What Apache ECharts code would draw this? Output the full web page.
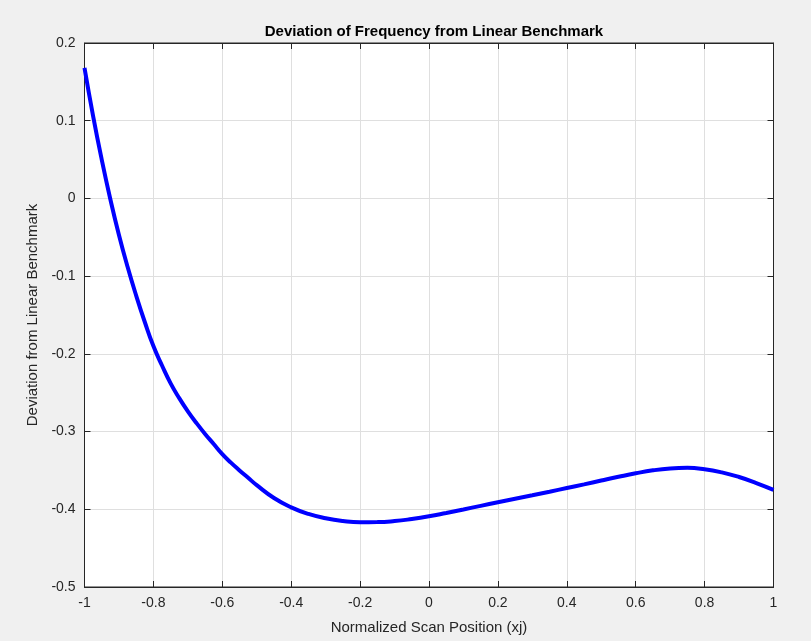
<!DOCTYPE html>
<html>
<head>
<meta charset="utf-8">
<script src="https://cdn.jsdelivr.net/npm/echarts@6/dist/echarts.min.js"></script>
<style>
html,body{margin:0;padding:0;background:#f0f0f0;}
#chart{width:811px;height:641px;}
</style>
</head>
<body>
<div id="chart"></div>
<script>
// Data
const xPositions = [-1.00,-0.975,-0.95,-0.925,-0.90,-0.875,-0.85,-0.825,-0.80,-0.775,-0.75,-0.725,-0.70,-0.675,-0.65,-0.625,-0.60,-0.575,-0.55,-0.525,-0.50,-0.45,-0.40,-0.35,-0.30,-0.25,-0.20,-0.15,-0.10,-0.05,0.00,0.05,0.10,0.15,0.20,0.25,0.30,0.35,0.40,0.45,0.50,0.55,0.60,0.65,0.70,0.75,0.80,0.85,0.90,0.95,1.00];
const deviations = [0.168,0.106,0.050,-0.001,-0.047,-0.088,-0.125,-0.159,-0.190,-0.215,-0.238,-0.257,-0.274,-0.289,-0.303,-0.316,-0.329,-0.340,-0.350,-0.3595,-0.369,-0.3855,-0.3975,-0.406,-0.4115,-0.415,-0.4166,-0.4165,-0.4152,-0.4125,-0.409,-0.4047,-0.4002,-0.3956,-0.391,-0.3865,-0.382,-0.3774,-0.3727,-0.3679,-0.363,-0.3582,-0.3537,-0.3499,-0.3475,-0.3467,-0.3485,-0.3525,-0.3585,-0.3662,-0.375];
const titleText = 'Deviation of Frequency from Linear Benchmark';
const xLabel = 'Normalized Scan Position (xj)';
const yLabel = 'Deviation from Linear Benchmark';

const FONT = "'Liberation Sans', Arial, Helvetica, sans-serif";
const AX = '#262626';
const fmt = v => String(+v.toFixed(1));

const chart = echarts.init(document.getElementById('chart'));
const baseAxis = {
  axisLine: {show: true, onZero: false, lineStyle: {color: AX, width: 1}},
  axisTick: {show: true, inside: true, length: 6, lineStyle: {color: AX}},
  splitLine: {show: false},
  axisLabel: {show: false}
};
chart.setOption({
  backgroundColor: '#f0f0f0',
  animation: false,
  title: {
    text: titleText, left: 429, top: 19, textAlign: 'center',
    textStyle: {fontFamily: FONT, fontSize: 15, fontWeight: 'bold', color: '#000'}
  },
  grid: {left: 84.5, right: 37.5, top: 43, bottom: 54, show: true, backgroundColor: '#fff', borderColor: AX, borderWidth: 1},
  xAxis: [{
    type: 'value', min: -1, max: 1, interval: 0.2, position: 'bottom',
    name: xLabel, nameLocation: 'middle', nameGap: 33,
    nameTextStyle: {fontFamily: FONT, fontSize: 15, color: AX},
    axisLine: {show: true, onZero: false, lineStyle: {color: AX, width: 1}},
    axisTick: {show: true, inside: true, length: 6, lineStyle: {color: AX}},
    axisLabel: {fontFamily: FONT, fontSize: 14, color: AX, margin: 9, formatter: fmt},
    splitLine: {show: true, lineStyle: {color: '#dfdfdf', width: 1}}
  }, Object.assign({type: 'value', min: -1, max: 1, interval: 0.2, position: 'top'}, baseAxis)],
  yAxis: [{
    type: 'value', min: -0.5, max: 0.2, interval: 0.1, position: 'left',
    name: yLabel, nameLocation: 'middle', nameGap: 39,
    nameTextStyle: {fontFamily: FONT, fontSize: 15, color: AX},
    axisLine: {show: true, onZero: false, lineStyle: {color: AX, width: 1}},
    axisTick: {show: true, inside: true, length: 6, lineStyle: {color: AX}},
    axisLabel: {fontFamily: FONT, fontSize: 14, color: AX, margin: 9, formatter: fmt},
    splitLine: {show: true, lineStyle: {color: '#dfdfdf', width: 1}}
  }, Object.assign({type: 'value', min: -0.5, max: 0.2, interval: 0.1, position: 'right'}, baseAxis)],
  series: [{
    type: 'line',
    data: xPositions.map((x, i) => [x, deviations[i]]),
    smooth: 0.5,
    showSymbol: false,
    lineStyle: {color: '#0000ff', width: 4},
    itemStyle: {color: '#0000ff'}
  }]
});
</script>
</body>
</html>
